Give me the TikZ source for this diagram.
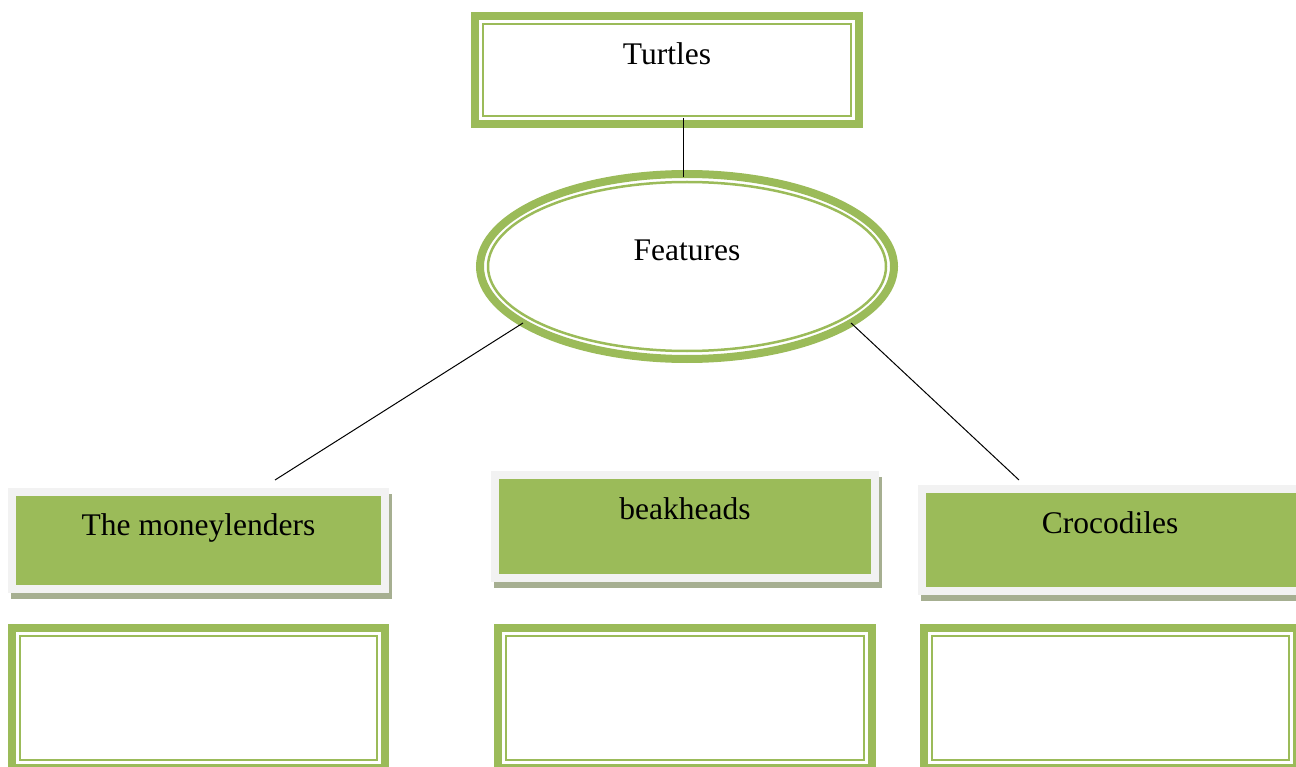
\documentclass[tikz,border=0pt]{standalone}
\usepackage{fontspec}
\setmainfont{Liberation Serif}
\usetikzlibrary{shapes.geometric,backgrounds}
\definecolor{og}{HTML}{9BBB59}
\definecolor{frm}{HTML}{F2F2F2}
\definecolor{shd}{HTML}{A6AF91}
\tikzset{
 thinbox/.style={rectangle, draw=og, line width=2.5pt, inner sep=0pt, outer sep=0pt},
 thickband/.style={draw=og, line width=8pt},
 greenbox/.style={rectangle, fill=og, inner sep=0pt, outer sep=0pt},
 lbl/.style={anchor=base, inner sep=0pt, font=\fontsize{31.5}{36}\selectfont, text=black},
 conn/.style={draw=black, line width=1pt},
}
\newcommand{\greenframe}[1]{%
  \fill[shd] ([shift={(-5,-2)}]#1.north west) rectangle ([shift={(11,14)}]#1.south east);
  \fill[frm] ([shift={(-8,-8)}]#1.north west) rectangle ([shift={(8,8)}]#1.south east);
}
\newcommand{\dblband}[1]{%
  \draw[thickband] ([shift={(-8,-8)}]#1.north west) rectangle ([shift={(8,8)}]#1.south east);
}
\begin{document}
\begin{tikzpicture}[x=1pt,y=-1pt]
\useasboundingbox (0,0) rectangle (1296,767);
\clip (0,0) rectangle (1296,767);

% top box
\node[thinbox, minimum width=368pt, minimum height=92pt] (turt) at (667,70) {};
\dblband{turt}
\node[lbl] (turtt) at ([yshift=-41pt]turt.north) {Turtles};

% ellipse
\node[ellipse, thickband, minimum width=414pt, minimum height=185pt, inner sep=0pt, outer sep=0pt] (feat) at (687,266.5) {};
\draw[og, line width=2.5pt] (feat.center) ellipse [x radius=199pt, y radius=84.5pt];
\node[lbl] (featt) at ([yshift=5.5pt]feat.center) {Features};

% green boxes
\node[greenbox, minimum width=365pt, minimum height=89pt] (g1) at (198.5,540.5) {};
\node[greenbox, minimum width=372pt, minimum height=95pt] (g2) at (685,526.5) {};
\node[greenbox, minimum width=379pt, minimum height=94pt] (g3) at (1115.5,540) {};
\begin{pgfonlayer}{background}
\greenframe{g1}
\greenframe{g2}
\greenframe{g3}
\end{pgfonlayer}
\node[lbl] (g1t) at ([yshift=-39pt]g1.north) {The moneylenders};
\node[lbl] (g2t) at ([yshift=-40pt]g2.north) {beakheads};
\node[lbl] (g3t) at (1110,533) {Crocodiles};

% bottom boxes
\node[thinbox, minimum width=357pt, minimum height=124pt] (b1) at (198.5,698) {};
\node[thinbox, minimum width=358pt, minimum height=124pt] (b2) at (685,698) {};
\node[thinbox, minimum width=357pt, minimum height=124pt] (b3) at (1110.5,698) {};
\dblband{b1}
\dblband{b2}
\dblband{b3}

% connectors
\coordinate (l1) at (275,480);
\coordinate (r1) at (1019,480);
\draw[conn] ([xshift=16pt,yshift=-2pt]turt.south) -- ([xshift=-4pt,yshift=-3pt]feat.north);
\draw[conn] (feat.199.9) -- (l1);
\draw[conn] (feat.341.7) -- (r1);
\end{tikzpicture}
\end{document}
